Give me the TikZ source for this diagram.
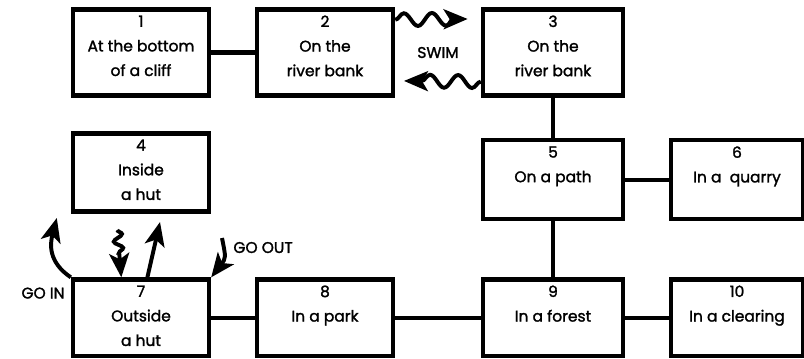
\documentclass[tikz,border=0pt]{standalone}
\usepackage{fontspec}
\setmainfont{Poppins}[FakeBold=1.6]
\usepackage{tikz}
\usetikzlibrary{arrows.meta,calc}
\usetikzlibrary{positioning,decorations.pathmorphing}

\begin{document}
\begin{tikzpicture}[
  box/.style={draw, line width=3.1pt, minimum width=3.4cm, minimum height=2.15cm},
  txt/.style={align=center, inner sep=0pt, font=\fontsize{11}{17.5}\selectfont},
  lbl/.style={inner sep=0pt, font=\fontsize{11}{12}\selectfont},
  wire/.style={line width=3.1pt},
  bigarrow/.style={line width=2.8pt, -{Stealth[length=6mm,width=5mm,inset=1.5mm]}},
  swim/.style={bigarrow, decorate, decoration={snake, amplitude=1.6mm, segment length=7mm, post length=5mm}},
  node distance=4.6cm
  ]
  \useasboundingbox (0,0) rectangle (20.1,-8.95);

  % Top row
  \node[box] (b1) at (3.525,-1.3125) {};
  \node[box, right of=b1] (b2) {};
  \node[box, right of=b2, node distance=5.7cm, minimum width=3.5cm] (b3) {};

  % Middle row
  \node[box, below of=b1, node distance=3cm, minimum height=1.95cm] (b4) {};
  \node[box, below of=b3, node distance=3.18cm, minimum height=1.97cm, minimum width=3.5cm] (b5) {};
  \node[box, right of=b5, node distance=4.6cm, minimum height=1.97cm, minimum width=3.3cm] (b6) {};

  % Bottom row
  \node[box, below of=b1, node distance=6.63cm, minimum height=1.91cm] (b7) {};
  \node[box, right of=b7, minimum height=1.91cm] (b8) {};
  \node[box, right of=b8, node distance=5.7cm, minimum height=1.91cm, minimum width=3.5cm] (b9) {};
  \node[box, right of=b9, node distance=4.6cm, minimum height=1.91cm, minimum width=3.3cm] (b10) {};

  % Texts
  \node[txt, below=0.2cm of b1.north] (t1) {1\\At the bottom\\of a cliff};
  \node[txt, below=0.2cm of b2.north] (t2) {2\\On the\\river bank};
  \node[txt, below=0.2cm of b3.north] (t3) {3\\On the\\river bank};
  \node[txt, below=0.2cm of b4.north] (t4) {4\\Inside\\a hut};
  \node[txt, below=0.2cm of b5.north] (t5) {5\\On a path};
  \node[txt, below=0.2cm of b6.north] (t6) {6\\In a\ \ quarry};
  \node[txt, below=0.2cm of b7.north] (t7) {7\\Outside\\a hut};
  \node[txt, below=0.2cm of b8.north] (t8) {8\\In a park};
  \node[txt, below=0.2cm of b9.north] (t9) {9\\In a forest};
  \node[txt, below=0.2cm of b10.north] (t10) {10\\In a clearing};

  % Connections
  \draw[wire] (b1) -- (b2);
  \draw[wire] (b3) -- (b5);
  \draw[wire] (b5) -- (b6);
  \draw[wire] (b5) -- (b9);
  \draw[wire] (b7) -- (b8);
  \draw[wire] (b8) -- (b9);
  \draw[wire] (b9) -- (b10);

  % Swimming across
  \node[lbl] (swim) at ($(b2.east)!0.5!(b3.west)$) {SWIM};
  \draw[swim, shorten >=3.3mm] (b2.25) -- (b3.155);
  \draw[swim, shorten >=2.2mm] (b3.202) -- (b2.338);

  % Around the hut
  \coordinate (gin) at (1.42,-5.45);
  \coordinate (sq) at (2.93,-5.75);
  \coordinate (gup) at (4.0,-5.55);
  \coordinate (gout) at (5.55,-5.95);
  \draw[bigarrow] (b7.north west) .. controls (1.2,-6.55) and (1.25,-6.1) .. (gin);
  \draw[bigarrow, decorate, decoration={snake, amplitude=1.1mm, segment length=3.5mm, post length=6mm}] (sq) -- (b7.116);
  \draw[bigarrow] (b7.81) -- (gup);
  \draw[bigarrow] (gout) .. controls (5.65,-6.45) .. (b7.north east);
  \node[lbl, below left=0.25cm and 0.15cm of b7.north west] (goin) {GO IN};
  \node[lbl, above right=0.6cm and 0.55cm of b7.north east] (goout) {GO OUT};
\end{tikzpicture}
\end{document}
